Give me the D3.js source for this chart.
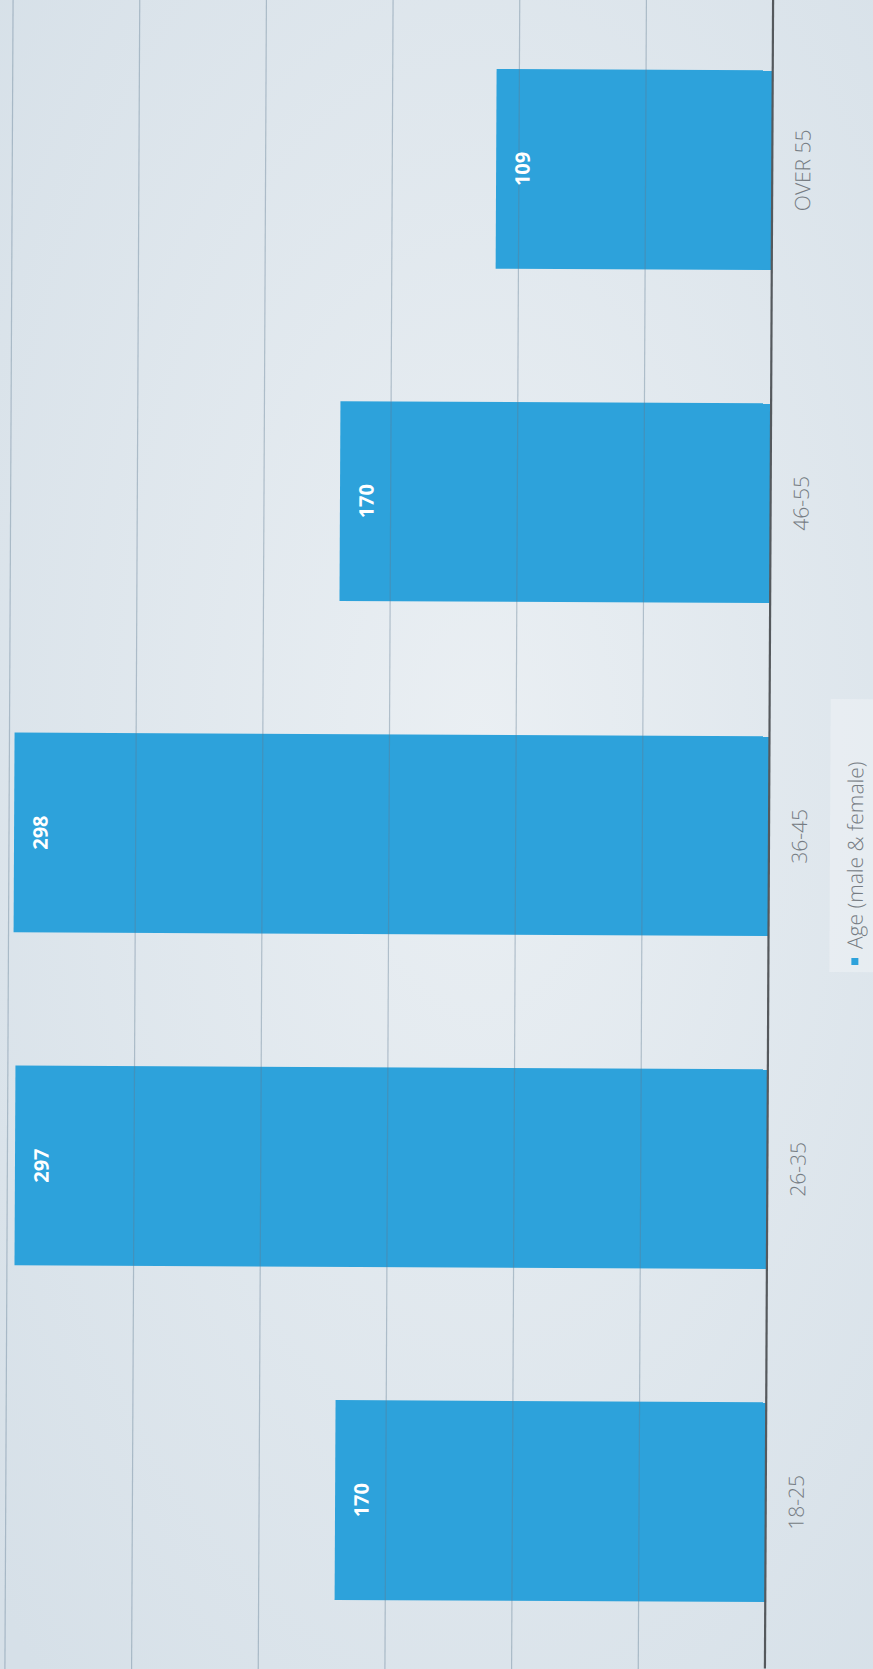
<!DOCTYPE html>
<html>
  <head>
    <title>Age (male & female)</title>
    <script src="https://d3js.org/d3.v7.min.js"></script>
    <style>
      body { margin: 0; background: #dfe7ed; }
      .cat-label { font-family: "Open Sans", sans-serif; font-size: 21px; font-weight: 300; fill: #767c83; }
      .val-label { font-family: "Open Sans", sans-serif; font-size: 20px; font-weight: bold; fill: #ffffff; }
      .legend-text { font-family: "Open Sans", sans-serif; font-size: 21px; font-weight: 300; fill: #767c83; }
    </style>
  </head>
  <body>
    <div id="chart"></div>
    <script>
      // data
      const categories = ["18-25", "26-35", "36-45", "46-55", "OVER 55"];
      const values = [170, 297, 298, 170, 109];
      const tickValues = [0, 50, 100, 150, 200, 250, 300];
      const seriesName = "Age (male & female)";

      const W = 873, H = 1669;

      const svg = d3.select("#chart")
        .append("svg")
        .attr("width", W)
        .attr("height", H);

      // paper-ish background
      const defs = svg.append("defs");
      const grad = defs.append("radialGradient")
        .attr("id", "paper")
        .attr("cx", "55%").attr("cy", "45%").attr("r", "75%");
      grad.append("stop").attr("offset", "0%").attr("stop-color", "#eaeff3");
      grad.append("stop").attr("offset", "100%").attr("stop-color", "#d6e0e8");
      svg.append("rect").attr("width", W).attr("height", H).attr("fill", "url(#paper)");

      // the chart is photographed slightly tilted and turned on its side
      const g = svg.append("g").attr("transform", `rotate(0.28, ${W / 2}, ${H / 2})`);

      // value axis runs right -> left
      const x = d3.scaleLinear().domain([0, 300]).range([769, 9]);
      // categories run bottom -> top
      const y = d3.scaleBand()
        .domain(categories)
        .range([1667, 2])
        .paddingInner(0.4)
        .paddingOuter(0.2);

      const data = categories.map((c, i) => ({ cat: c, value: values[i] }));

      // bars
      g.selectAll("rect.bar")
        .data(data)
        .enter()
        .append("rect")
        .attr("class", "bar")
        .attr("x", d => x(d.value))
        .attr("y", d => y(d.cat))
        .attr("width", d => x(0) - x(d.value))
        .attr("height", y.bandwidth())
        .attr("fill", "#2da2db");

      // gridlines (drawn over the bars, faint)
      g.selectAll("line.grid")
        .data(tickValues.filter(t => t > 0))
        .enter()
        .append("line")
        .attr("class", "grid")
        .attr("x1", d => x(d)).attr("x2", d => x(d))
        .attr("y1", -10).attr("y2", H + 10)
        .attr("stroke", "#5f7a92")
        .attr("stroke-opacity", 0.4)
        .attr("stroke-width", 1.2);

      // baseline
      g.append("line")
        .attr("x1", x(0)).attr("x2", x(0))
        .attr("y1", -10).attr("y2", H - 2)
        .attr("stroke", "#55595d")
        .attr("stroke-width", 2.2);

      // category labels
      g.selectAll("text.cat-label")
        .data(categories)
        .enter()
        .append("text")
        .attr("class", "cat-label")
        .attr("transform", d => `translate(${x(0) + 30}, ${y(d) + y.bandwidth() / 2}) rotate(-90)`)
        .attr("text-anchor", "middle")
        .attr("dominant-baseline", "central")
        .text(d => d);

      // value labels inside bar ends
      g.selectAll("text.val-label")
        .data(data)
        .enter()
        .append("text")
        .attr("class", "val-label")
        .attr("transform", d => `translate(${x(d.value) + 26}, ${y(d.cat) + y.bandwidth() / 2}) rotate(-90)`)
        .attr("text-anchor", "middle")
        .attr("dominant-baseline", "central")
        .text(d => d.value);

      // legend
      const lg = g.append("g").attr("transform", "translate(830, 697)");
      lg.append("rect")
        .attr("width", 50).attr("height", 273)
        .attr("fill", "#eef2f5")
        .attr("fill-opacity", 0.55);
      lg.append("rect")
        .attr("x", 22).attr("y", 259)
        .attr("width", 7).attr("height", 7)
        .attr("fill", "#2da2db");
      lg.append("text")
        .attr("class", "legend-text")
        .attr("transform", "translate(25, 250) rotate(-90)")
        .attr("dominant-baseline", "central")
        .text(seriesName);
    </script>
  </body>
</html>
